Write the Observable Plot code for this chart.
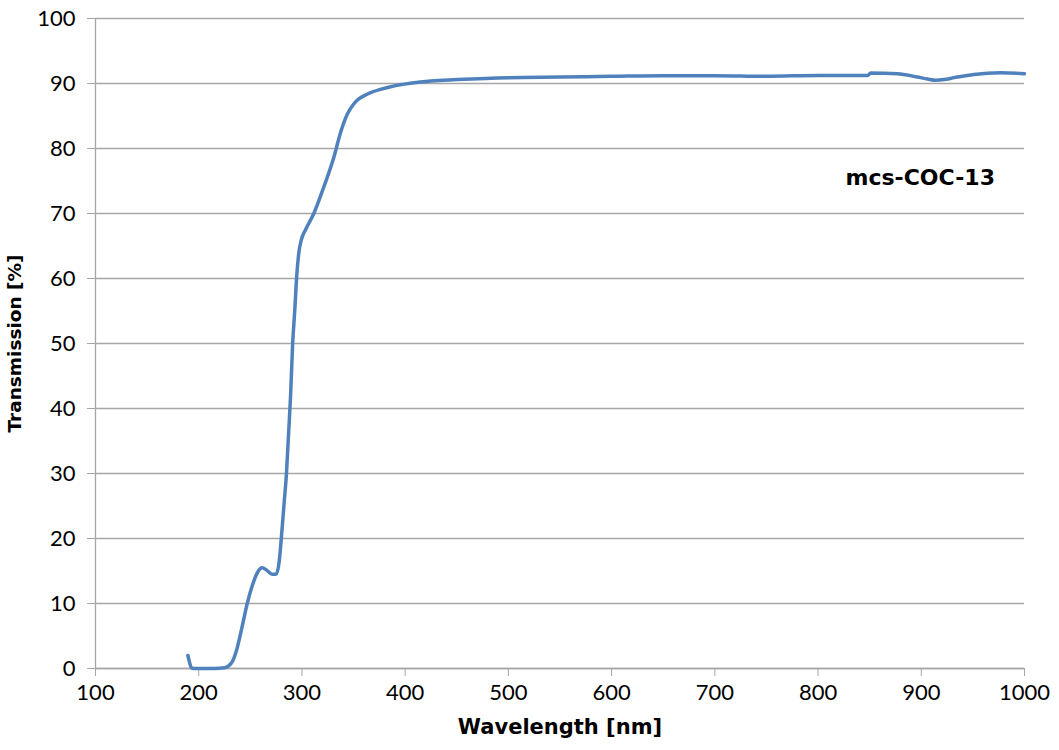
<!DOCTYPE html>
<html>
<head>
<meta charset="utf-8">
<script src="https://cdn.jsdelivr.net/npm/d3@7"></script>
<script src="https://cdn.jsdelivr.net/npm/@observablehq/plot@0.6"></script>
<style>
  html, body { margin: 0; padding: 0; background: #fff; }
  #chart svg { display: block; }
</style>
</head>
<body>
<div id="chart"></div>
<script>
const wavelength = [189.5, 191, 193, 195, 205, 215, 225, 229, 233, 237, 242, 247, 252, 257, 261.5, 266, 271, 275, 278, 280, 283, 285, 287, 289, 291, 293, 295, 297, 299.5, 303.5, 311.5, 321, 331, 337.5, 344, 350, 354, 360, 366.5, 376, 386, 395, 405, 425, 450, 500, 550, 600, 650, 700, 750, 800, 848, 851, 877, 896, 906, 914, 922, 932, 951, 977, 1000];
const transmission = [2.0, 1.0, 0.1, 0, 0, 0, 0.1, 0.4, 1.2, 3.0, 6.4, 10.0, 12.8, 14.8, 15.5, 15.1, 14.5, 14.5, 16.5, 20, 26, 30, 36, 42, 50, 55, 60.5, 64, 66, 67.5, 70, 74, 78.7, 82.5, 85.3, 86.8, 87.5, 88.1, 88.6, 89.1, 89.5, 89.8, 90.05, 90.4, 90.6, 90.9, 91.0, 91.1, 91.2, 91.2, 91.1, 91.25, 91.25, 91.6, 91.5, 91.0, 90.7, 90.5, 90.6, 90.9, 91.4, 91.65, 91.5];
const xTicks = [100, 200, 300, 400, 500, 600, 700, 800, 900, 1000];
const yTicks = [0, 10, 20, 30, 40, 50, 60, 70, 80, 90, 100];
const seriesLabel = "mcs-COC-13";
const seriesLabelPos = {x: 899, y: 75.4};
const xLabel = "Wavelength [nm]";
const yLabel = "Transmission [%]";

const data = wavelength.map((w, i) => ({w, t: transmission[i]}));
const gray = "#a6a6a6";
const font = "Lato, 'Noto Sans', sans-serif";
const boldFont = "'DejaVu Sans', sans-serif";

const chart = Plot.plot({
  width: 1059,
  height: 750,
  marginLeft: 95,
  marginRight: 35,
  marginTop: 18,
  marginBottom: 82,
  style: {fontFamily: font, color: "#000", background: "#fff"},
  x: {domain: [100, 1000]},
  y: {domain: [0, 100]},
  marks: [
    Plot.gridY(yTicks, {stroke: gray, strokeOpacity: 1, strokeWidth: 1.3}),
    Plot.ruleX([100], {stroke: gray, strokeWidth: 1.3}),
    Plot.ruleY([0], {stroke: gray, strokeWidth: 1.3}),
    Plot.axisY({ticks: yTicks, tickSize: 8, tickPadding: 12, fontSize: 22, stroke: gray, fill: "#000", label: null, tickFormat: d3.format("d")}),
    Plot.axisX({ticks: xTicks, tickSize: 8, tickPadding: 8, fontSize: 22, stroke: gray, fill: "#000", label: null, tickFormat: d3.format("d")}),
    Plot.line(data, {x: "w", y: "t", stroke: "#4f81bd", strokeWidth: 3.5, curve: "monotone-x"}),
    Plot.text([seriesLabel], {x: seriesLabelPos.x, y: seriesLabelPos.y, text: d => d, fontSize: 22, fontWeight: "bold", fontFamily: boldFont, fill: "#000"}),
    Plot.text([xLabel], {frameAnchor: "bottom", dy: 65, text: d => d, fontSize: 21, fontWeight: "bold", fontFamily: boldFont, fill: "#000"}),
    Plot.text([yLabel], {frameAnchor: "left", textAnchor: "middle", dx: -80, rotate: -90, text: d => d, fontSize: 18.5, fontWeight: "bold", fontFamily: boldFont, fill: "#000"})
  ]
});
document.getElementById("chart").appendChild(chart);
</script>
</body>
</html>
